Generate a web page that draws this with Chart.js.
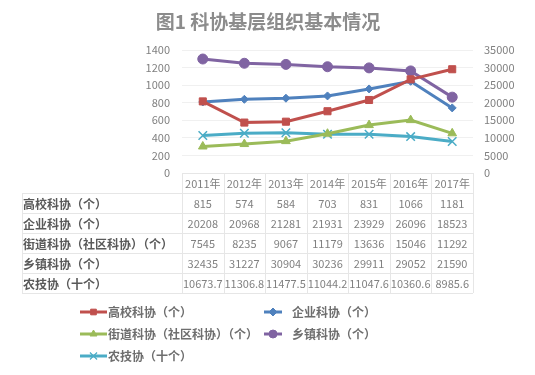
<!DOCTYPE html>
<html>
<head>
<meta charset="utf-8">
<script src="https://cdn.jsdelivr.net/npm/chart.js@4"></script>
<style>
  html, body { margin: 0; padding: 0; background: #fff; }
  #wrap { width: 535px; height: 375px; position: relative; }
</style>
</head>
<body>
<div id="wrap"><canvas id="cjs" width="535" height="375"></canvas></div>
<script>
// 数据
const years = ['2011年', '2012年', '2013年', '2014年', '2015年', '2016年', '2017年'];
const gaoxiao = [815, 574, 584, 703, 831, 1066, 1181];
const qiye = [20208, 20968, 21281, 21931, 23929, 26096, 18523];
const jiedao = [7545, 8235, 9067, 11179, 13636, 15046, 11292];
const xiangzhen = [32435, 31227, 30904, 30236, 29911, 29052, 21590];
const nongji = [10673.7, 11306.8, 11477.5, 11044.2, 11047.6, 10360.6, 8985.6];
const seriesNames = ['高校科协（个）', '企业科协（个）', '街道科协（社区科协）（个）', '乡镇科协（个）', '农技协（十个）'];
const tableText = [
    ['815', '574', '584', '703', '831', '1066', '1181'],
    ['20208', '20968', '21281', '21931', '23929', '26096', '18523'],
    ['7545', '8235', '9067', '11179', '13636', '15046', '11292'],
    ['32435', '31227', '30904', '30236', '29911', '29052', '21590'],
    ['10673.7', '11306.8', '11477.5', '11044.2', '11047.6', '10360.6', '8985.6']
];

const grey = '#595959';
const lightGrey = '#808080';
const lineGrey = '#e6e6e6';
const fontCN = '"Noto Sans CJK SC", "Noto Sans", sans-serif';

function mk(label, data, color, style, r, axis) {
    return {
        label: label, data: data, yAxisID: axis,
        borderColor: color, backgroundColor: color,
        borderWidth: 3, pointStyle: style, pointRadius: r,
        pointBorderWidth: style === 'crossRot' ? 1.5 : 1,
        tension: 0
    };
}

const datasets = [
    mk(seriesNames[0], gaoxiao, '#C0504D', 'rect', 5, 'y'),
    mk(seriesNames[1], qiye, '#4F81BD', 'rectRot', 4, 'y1'),
    mk(seriesNames[2], jiedao, '#9BBB59', 'triangle', 5, 'y1'),
    mk(seriesNames[3], xiangzhen, '#8064A2', 'circle', 5, 'y1'),
    mk(seriesNames[4], nongji, '#4BACC6', 'crossRot', 6, 'y1')
];

// 标题、数据表和图例
const tablePlugin = {
    id: 'tablePlugin',
    afterDraw(chart) {
        const ctx = chart.ctx;
        const xs = chart.scales.x;
        const area = chart.chartArea;
        const colW = (area.right - area.left) / years.length;
        ctx.save();

        ctx.fillStyle = '#8c8c8c';
        ctx.font = 'bold 19px ' + fontCN;
        ctx.textAlign = 'center';
        ctx.textBaseline = 'middle';
        ctx.fillText('图1 科协基层组织基本情况', 268, 22);

        const top = area.bottom, rowH = 20, tabLeft = 22;
        ctx.strokeStyle = lineGrey;
        ctx.lineWidth = 1;
        ctx.beginPath();
        for (let i = 0; i <= years.length; i++) {
            const x = Math.round(area.left + i * colW) + 0.5;
            ctx.moveTo(x, top); ctx.lineTo(x, top + rowH * 6);
        }
        ctx.moveTo(tabLeft + 0.5, top + rowH); ctx.lineTo(tabLeft + 0.5, top + rowH * 6);
        ctx.moveTo(area.left, top + 0.5); ctx.lineTo(area.right, top + 0.5);
        for (let j = 1; j <= 6; j++) {
            const y = top + rowH * j + 0.5;
            ctx.moveTo(tabLeft, y); ctx.lineTo(area.right, y);
        }
        ctx.stroke();

        ctx.fillStyle = lightGrey;
        ctx.font = '11px ' + fontCN;
        ctx.textAlign = 'center';
        years.forEach((y, i) => ctx.fillText(y, xs.getPixelForValue(i), top + rowH / 2 + 1));
        tableText.forEach((row, j) => {
            const y = top + rowH * (j + 1) + rowH / 2 + 1;
            ctx.fillStyle = lightGrey;
            ctx.font = '11px ' + fontCN;
            ctx.textAlign = 'center';
            row.forEach((v, i) => ctx.fillText(v, xs.getPixelForValue(i), y));
            ctx.fillStyle = grey;
            ctx.font = 'bold 12px ' + fontCN;
            ctx.textAlign = 'left';
            ctx.fillText(seriesNames[j], tabLeft + 1, y);
        });

        // 图例
        const pos = [[80, 312], [264, 312], [80, 334], [264, 334], [80, 356]];
        datasets.forEach((d, k) => {
            const [lx, ly] = pos[k];
            const len = k % 2 === 1 ? 18 : 27;
            ctx.strokeStyle = d.borderColor;
            ctx.lineWidth = 3;
            ctx.beginPath(); ctx.moveTo(lx, ly); ctx.lineTo(lx + len, ly); ctx.stroke();
            ctx.fillStyle = d.borderColor;
            ctx.lineWidth = d.pointStyle === 'crossRot' ? 1.2 : 1;
            Chart.helpers.drawPoint(ctx, {
                pointStyle: d.pointStyle, radius: d.pointStyle === 'crossRot' ? 5 : 4, borderWidth: 1
            }, lx + len / 2, ly);
            ctx.fillStyle = '#6e6e6e';
            ctx.font = 'bold 12px ' + fontCN;
            ctx.textAlign = 'left';
            ctx.textBaseline = 'middle';
            ctx.fillText(d.label, k % 2 === 1 ? 292 : 108, ly);
        });
        ctx.restore();
    }
};

new Chart(document.getElementById('cjs'), {
    type: 'line',
    data: { labels: years, datasets: datasets },
    plugins: [tablePlugin],
    options: {
        responsive: false,
        animation: false,
        devicePixelRatio: 1,
        layout: { padding: { top: 50, bottom: 202, left: 0, right: 0 } },
        plugins: { legend: { display: false }, title: { display: false }, tooltip: { enabled: false } },
        scales: {
            x: { display: false, offset: true },
            y: {
                position: 'left', min: 0, max: 1400,
                ticks: { stepSize: 200, color: lightGrey, padding: 12, font: { size: 11, family: fontCN },
                    callback: v => String(v) },
                grid: { color: '#f0f0f0', drawTicks: false },
                border: { display: false },
                afterFit(s) { s.width = 182; }
            },
            y1: {
                position: 'right', min: 0, max: 35000,
                ticks: { stepSize: 5000, color: lightGrey, padding: 11, font: { size: 11, family: fontCN },
                    callback: v => String(v) },
                grid: { display: false, drawTicks: false },
                border: { display: false },
                afterFit(s) { s.width = 62; }
            }
        }
    }
});
</script>
</body>
</html>
